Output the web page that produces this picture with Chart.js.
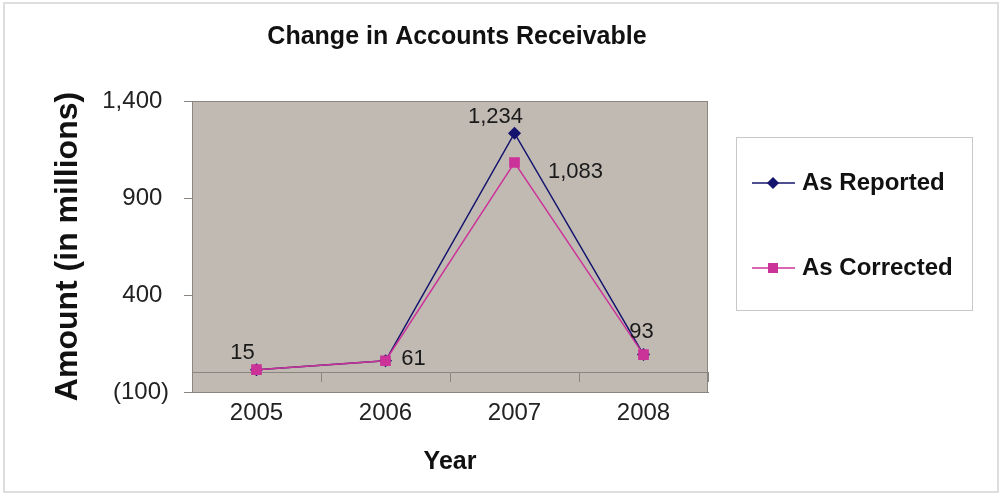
<!DOCTYPE html>
<html>
<head>
<meta charset="utf-8">
<title>Change in Accounts Receivable</title>
<script src="https://cdn.jsdelivr.net/npm/chart.js@4.4.0/dist/chart.umd.min.js"></script>
<style>
    body { margin: 0; background: #fff; }
    #box { width: 1000px; height: 495px; }
</style>
</head>
<body>
<div id="box"><canvas id="chartLinha"></canvas></div>
<script>
var titulo = 'Change in Accounts Receivable'
var anos = ['2005', '2006', '2007', '2008']
var asReported = [15, 61, 1234, 93]
var asCorrected = [15, 61, 1083, 93]
var ticksY = [-100, 400, 900, 1400]

// which points get a value label, and where it sits next to the point
var rotulos = [
    { serie: 0, ponto: 0, dx: -14, dy: -17 },
    { serie: 0, ponto: 1, dx: 28, dy: -2 },
    { serie: 0, ponto: 2, dx: -19, dy: -16 },
    { serie: 1, ponto: 2, dx: 61, dy: 9 },
    { serie: 0, ponto: 3, dx: -2, dy: -23 }
]

function formatar(v) {
    if (v < 0) return '(' + Math.abs(v).toLocaleString('en-US') + ')'
    return v.toLocaleString('en-US') + ' '
}

var fonte = 'Liberation Sans, Arial, sans-serif'

var fundo = {
    id: 'fundo',
    beforeDraw: function(chart) {
        var ctx = chart.ctx
        var a = chart.chartArea
        ctx.save()
        ctx.fillStyle = '#fff'
        ctx.fillRect(0, 0, chart.width, chart.height)
        ctx.strokeStyle = '#dedede'
        ctx.lineWidth = 2
        ctx.strokeRect(4, 3, 994, 489)
        ctx.fillStyle = '#c1bab3'
        ctx.fillRect(a.left, a.top, a.right - a.left, a.bottom - a.top)
        ctx.strokeStyle = '#8a8580'
        ctx.lineWidth = 1
        ctx.strokeRect(a.left + 0.5, a.top + 0.5, a.right - a.left - 1, a.bottom - a.top)
        // chart title, centred over the whole figure like the original
        ctx.fillStyle = '#111'
        ctx.font = 'bold 25px ' + fonte
        ctx.textAlign = 'center'
        ctx.textBaseline = 'middle'
        ctx.fillText(titulo, 457, 37)
        ctx.restore()
    }
}

var valores = {
    id: 'valores',
    afterDatasetsDraw: function(chart) {
        var ctx = chart.ctx
        ctx.save()
        ctx.font = '22px ' + fonte
        ctx.fillStyle = '#1a1a1a'
        ctx.textAlign = 'center'
        ctx.textBaseline = 'middle'
        for (let i = 0; i < rotulos.length; i++) {
            let r = rotulos[i]
            let p = chart.getDatasetMeta(r.serie).data[r.ponto]
            let v = chart.data.datasets[r.serie].data[r.ponto]
            ctx.fillText(v.toLocaleString('en-US'), p.x + r.dx, p.y + r.dy)
        }
        ctx.restore()
    }
}

var legenda = {
    id: 'legenda',
    afterDraw: function(chart) {
        var ctx = chart.ctx
        ctx.save()
        ctx.fillStyle = '#fff'
        ctx.fillRect(736, 137, 236, 173)
        ctx.strokeStyle = '#c8c8c8'
        ctx.lineWidth = 1
        ctx.strokeRect(736.5, 137.5, 236, 173)
        var linhasY = [183, 268]
        chart.data.datasets.forEach(function(ds, i) {
            let y = linhasY[i]
            ctx.strokeStyle = ds.borderColor
            ctx.lineWidth = ds.borderWidth
            ctx.beginPath()
            ctx.moveTo(752, y)
            ctx.lineTo(795, y)
            ctx.stroke()
            ctx.fillStyle = ds.backgroundColor
            Chart.helpers.drawPoint(ctx, {
                pointStyle: ds.pointStyle, radius: ds.pointRadius - 0.5, rotation: 0, borderWidth: 1
            }, 773, y)
            ctx.fillStyle = '#111'
            ctx.font = 'bold 24px ' + fonte
            ctx.textAlign = 'left'
            ctx.textBaseline = 'middle'
            ctx.fillText(ds.label, 802, y)
        })
        ctx.restore()
    }
}

var ctx = document.getElementById('chartLinha')

var dados = {
    labels: anos,
    datasets: [{
        label: 'As Reported',
        data: asReported,
        borderColor: '#14146e',
        backgroundColor: '#14146e',
        borderWidth: 1.5,
        pointStyle: 'rectRot',
        pointRadius: 5.5,
        order: 1
    }, {
        label: 'As Corrected',
        data: asCorrected,
        borderColor: '#cc3399',
        backgroundColor: '#cc3399',
        borderWidth: 1.5,
        pointStyle: 'rect',
        pointRadius: 6.5,
        order: 0
    }]
}

var lineChart = new Chart(ctx, {
    type: 'line',
    data: dados,
    plugins: [fundo, valores, legenda],
    options: {
        responsive: true,
        maintainAspectRatio: false,
        animation: false,
        events: [],
        layout: { padding: { left: 0, right: 292, top: 101, bottom: 0 } },
        scales: {
            x: {
                offset: true,
                grid: { display: true, drawOnChartArea: false, drawTicks: false, color: '#8a8580' },
                border: { display: true, color: '#8a8580' },
                ticks: { padding: 7, color: '#222', font: { family: fonte, size: 24 } },
                title: {
                    display: true, text: 'Year', color: '#111',
                    font: { family: fonte, size: 25, weight: 'bold' },
                    padding: { top: 0, bottom: 18 }
                },
                afterFit: function(scale) { scale.height = 103 }
            },
            x0: {
                type: 'category',
                labels: anos,
                offset: true,
                position: { y: 0 },
                grid: { offset: true, drawOnChartArea: false, drawTicks: true, tickLength: 9, color: '#8a8580' },
                border: { display: true, color: '#8a8580' },
                ticks: { display: false }
            },
            y: {
                min: -100,
                max: 1400,
                afterBuildTicks: function(scale) {
                    scale.ticks = ticksY.map(function(v) { return { value: v } })
                },
                grid: { drawOnChartArea: false, drawTicks: true, tickLength: 8, color: '#8a8580' },
                border: { display: true, color: '#8a8580' },
                ticks: {
                    padding: 15, color: '#222',
                    font: { family: fonte, size: 24 },
                    callback: function(v) { return formatar(v) }
                },
                title: {
                    display: true, text: 'Amount (in millions)', color: '#111',
                    font: { family: fonte, size: 32, weight: 'bold' },
                    padding: { top: 49, bottom: 0 }
                },
                afterFit: function(scale) { scale.width = 192 }
            }
        },
        plugins: {
            legend: { display: false },
            tooltip: { enabled: false },
            title: { display: false }
        }
    }
})
</script>
</body>
</html>
